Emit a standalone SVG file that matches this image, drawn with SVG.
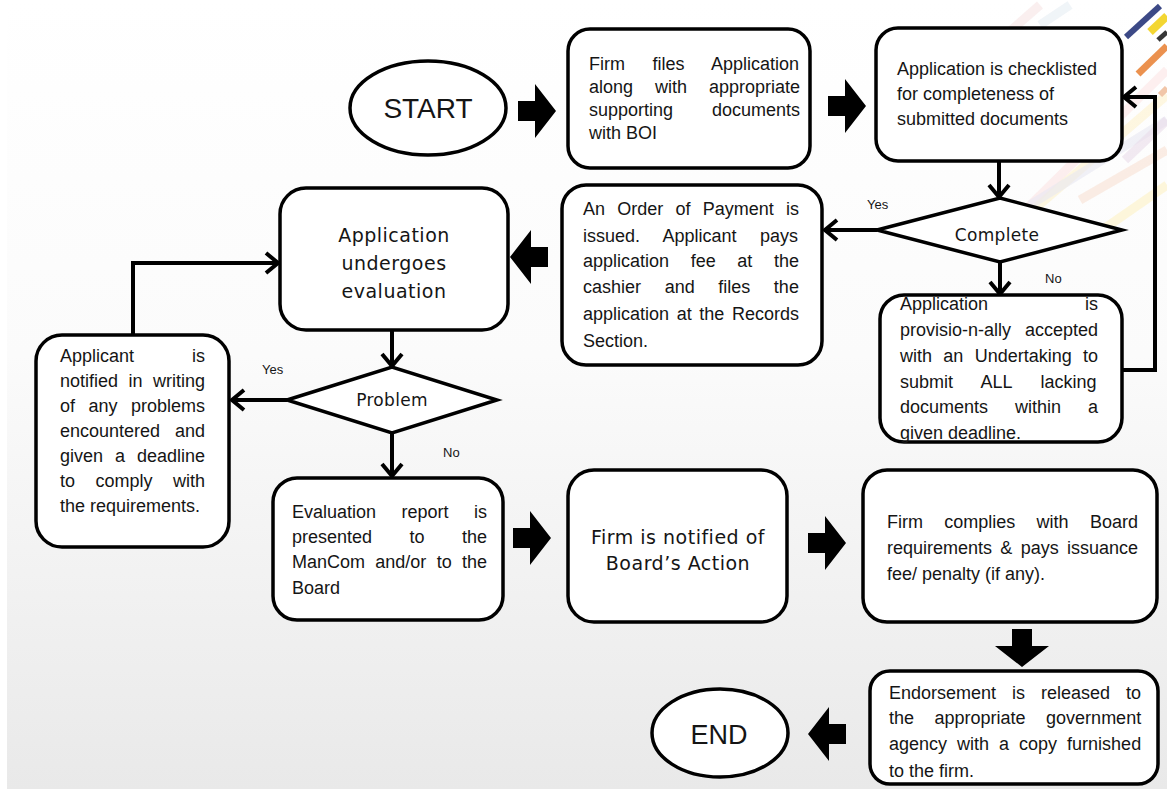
<svg xmlns="http://www.w3.org/2000/svg" width="1167" height="789" viewBox="0 0 1167 789">
<defs>
<style>
.box{fill:#fff;stroke:#000;stroke-width:3.5}
.t{font-family:"Liberation Sans",Arial,sans-serif;font-size:18px;fill:#151515}
.v{font-family:"DejaVu Sans",Verdana,sans-serif;font-size:19px;letter-spacing:0.5px;fill:#151515;text-anchor:middle}
.lbl{font-family:"Liberation Sans",Arial,sans-serif;font-size:13px;fill:#151515}
.conn{fill:none;stroke:#000;stroke-width:4;marker-end:url(#chev)}
.blk{fill:#000}
.deco{stroke-width:9;fill:none}
</style>
<linearGradient id="bg" x1="0" y1="0" x2="0" y2="1">
<stop offset="0" stop-color="#ffffff"/>
<stop offset="0.45" stop-color="#fbfbfb"/>
<stop offset="1" stop-color="#e9e9e9"/>
</linearGradient>
<marker id="chev" viewBox="0 0 16 24" refX="14" refY="12" markerWidth="16" markerHeight="24" orient="auto" markerUnits="userSpaceOnUse">
<path d="M2,2 L14,12 L2,22" fill="none" stroke="#000" stroke-width="4"/>
</marker>
<path id="barrow" d="M-38,-10 H-21 V-27 L0,0 L-21,27 V10 H-38 Z"/>
</defs>

<rect x="0" y="0" width="1167" height="789" fill="#fff"/>
<rect x="7" y="0" width="1160" height="789" fill="url(#bg)"/>

<g id="decoration" opacity="0.9">
<line class="deco" x1="990" y1="245" x2="1167" y2="70" stroke="#fbe3e3" opacity="0.6"/>
<line class="deco" x1="1010" y1="230" x2="1167" y2="95" stroke="#fdf1c8" opacity="0.6"/>
<line class="deco" x1="1030" y1="205" x2="1167" y2="120" stroke="#e6e6f2" opacity="0.6"/>
<line class="deco" x1="1080" y1="200" x2="1167" y2="150" stroke="#f8e0d0" opacity="0.6"/>
<line class="deco" x1="1095" y1="235" x2="1167" y2="185" stroke="#fff2c0" opacity="0.6"/>
<line class="deco" x1="1125" y1="160" x2="1167" y2="120" stroke="#e8d8e8" opacity="0.6"/>
<line class="deco" x1="1000" y1="40" x2="1040" y2="5" stroke="#f6dede" opacity="0.5"/>
<line class="deco" x1="1040" y1="25" x2="1070" y2="5" stroke="#e4ecf4" opacity="0.6"/>
<line x1="1126" y1="37" x2="1160" y2="6" stroke="#28367a" stroke-width="6"/>
<line x1="1150" y1="32" x2="1167" y2="16" stroke="#f2d21c" stroke-width="8"/>
<line x1="1158" y1="40" x2="1167" y2="32" stroke="#222" stroke-width="5"/>
<line x1="1138" y1="74" x2="1167" y2="46" stroke="#e9863c" stroke-width="7"/>
<line x1="1160" y1="95" x2="1167" y2="88" stroke="#f0c0a0" stroke-width="6"/>
</g>

<g id="connectors">
<use href="#barrow" class="blk" transform="translate(556,111)"/>
<use href="#barrow" class="blk" transform="translate(866,106)"/>
<use href="#barrow" class="blk" transform="translate(510,257) rotate(180)"/>
<use href="#barrow" class="blk" transform="translate(551,538)"/>
<use href="#barrow" class="blk" transform="translate(846,543)"/>
<use href="#barrow" class="blk" transform="translate(1022,667) rotate(90)"/>
<use href="#barrow" class="blk" transform="translate(808,734) rotate(180)"/>
<path class="conn" d="M999,162 V197"/>
<path class="conn" d="M877,230 H825"/>
<path class="conn" d="M1000,262 V294"/>
<path class="conn" d="M1122,370 H1155 V97 H1124"/>
<path class="conn" d="M392,330 V366"/>
<path class="conn" d="M287,400 H232"/>
<path class="conn" d="M392,433 V476"/>
<path class="conn" d="M133,335 V263 H278"/>
<text class="lbl" x="867" y="209">Yes</text>
<text class="lbl" x="1045" y="283">No</text>
<text class="lbl" x="262" y="374">Yes</text>
<text class="lbl" x="443" y="457">No</text>
</g>

<g id="start">
<ellipse cx="428" cy="108" rx="78" ry="47" class="box"/>
<text x="428" y="118" text-anchor="middle" style="font-family:'Liberation Sans',Arial,sans-serif;font-size:28px;fill:#151515">START</text>
</g>

<g id="file-application">
<rect x="568" y="29" width="242" height="139" rx="22" class="box"/>
<text class="t" x="589" y="70" word-spacing="22.5">Firm files Application</text>
<text class="t" x="589" y="93" word-spacing="17">along with appropriate</text>
<text class="t" x="589" y="116" word-spacing="33.9">supporting documents</text>
<text class="t" x="589" y="139">with BOI</text>
</g>

<g id="checklist">
<rect x="876" y="28" width="246" height="133" rx="22" class="box"/>
<text class="t" x="897" y="75">Application is checklisted</text>
<text class="t" x="897" y="100">for completeness of</text>
<text class="t" x="897" y="125">submitted documents</text>
</g>

<g id="complete">
<polygon points="877,230 1000,198 1122,230 1000,262" class="box"/>
<text class="v" x="997" y="241" style="font-size:17px;letter-spacing:0.3px">Complete</text>
</g>

<g id="provisional">
<rect x="880" y="295" width="242" height="147" rx="24" class="box"/>
<text class="t" x="900" y="310" word-spacing="92">Application is</text>
<text class="t" x="900" y="336" word-spacing="9">provisio-n-ally accepted</text>
<text class="t" x="900" y="362" word-spacing="6.3">with an Undertaking to</text>
<text class="t" x="900" y="388" word-spacing="23.5">submit ALL lacking</text>
<text class="t" x="900" y="413" word-spacing="22">documents within a</text>
<text class="t" x="900" y="439">given deadline.</text>
</g>

<g id="payment">
<rect x="562" y="185" width="260" height="180" rx="24" class="box"/>
<text class="t" x="583" y="215" word-spacing="7.2">An Order of Payment is</text>
<text class="t" x="583" y="242" word-spacing="18.4">issued. Applicant pays</text>
<text class="t" x="583" y="267" word-spacing="16.6">application fee at the</text>
<text class="t" x="583" y="293" word-spacing="18.6">cashier and files the</text>
<text class="t" x="583" y="320" word-spacing="2.6">application at the Records</text>
<text class="t" x="583" y="347">Section.</text>
</g>

<g id="evaluation">
<rect x="280" y="188" width="228" height="142" rx="26" class="box"/>
<text class="v" x="394" y="242">Application</text>
<text class="v" x="394" y="270">undergoes</text>
<text class="v" x="394" y="298">evaluation</text>
</g>

<g id="problem">
<polygon points="287,400 392,367 497,400 392,433" class="box"/>
<text class="v" x="392" y="406" style="font-size:17px;letter-spacing:0.3px">Problem</text>
</g>

<g id="notify-applicant">
<rect x="36" y="335" width="193" height="212" rx="26" class="box"/>
<text class="t" x="60" y="362" word-spacing="53">Applicant is</text>
<text class="t" x="60" y="387" word-spacing="5.5">notified in writing</text>
<text class="t" x="60" y="412" word-spacing="8.5">of any problems</text>
<text class="t" x="60" y="437" word-spacing="9.9">encountered and</text>
<text class="t" x="60" y="462" word-spacing="7">given a deadline</text>
<text class="t" x="60" y="487" word-spacing="15.5">to comply with</text>
<text class="t" x="60" y="512">the requirements.</text>
</g>

<g id="evaluation-report">
<rect x="273" y="478" width="230" height="142" rx="24" class="box"/>
<text class="t" x="292" y="518" word-spacing="20.5">Evaluation report is</text>
<text class="t" x="292" y="543" word-spacing="32.5">presented to the</text>
<text class="t" x="292" y="568" word-spacing="5.3">ManCom and/or to the</text>
<text class="t" x="292" y="594">Board</text>
</g>

<g id="board-action">
<rect x="568" y="470" width="219" height="152" rx="26" class="box"/>
<text class="v" x="678" y="544">Firm is notified of</text>
<text class="v" x="678" y="570">Board’s Action</text>
</g>

<g id="complies">
<rect x="863" y="470" width="294" height="152" rx="24" class="box"/>
<text class="t" x="887" y="528" word-spacing="16.3">Firm complies with Board</text>
<text class="t" x="887" y="554" word-spacing="3.3">requirements &amp; pays issuance</text>
<text class="t" x="887" y="580">fee/ penalty (if any).</text>
</g>

<g id="endorsement">
<rect x="870" y="671" width="288" height="113" rx="20" class="box"/>
<text class="t" x="889" y="699" word-spacing="11">Endorsement is released to</text>
<text class="t" x="889" y="724" word-spacing="15.5">the appropriate government</text>
<text class="t" x="889" y="750" word-spacing="5">agency with a copy furnished</text>
<text class="t" x="889" y="777">to the firm.</text>
</g>

<g id="end">
<ellipse cx="720" cy="733" rx="68" ry="44" class="box"/>
<text x="719" y="744" text-anchor="middle" style="font-family:'Liberation Sans',Arial,sans-serif;font-size:27px;fill:#151515">END</text>
</g>
</svg>
